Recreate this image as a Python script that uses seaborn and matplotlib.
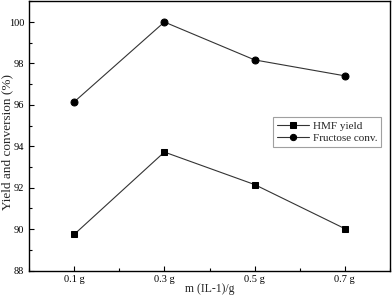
import matplotlib
matplotlib.use("Agg")
import matplotlib.pyplot as plt
import seaborn as sns
import pandas as pd
from matplotlib.ticker import MultipleLocator

categories = ["0.1 g", "0.3 g", "0.5 g", "0.7 g"]
mass = [0.1, 0.3, 0.5, 0.7]
hmf_yield = [89.74, 93.72, 92.15, 90.02]
fructose_conv = [96.14, 100.0, 98.17, 97.40]

sns.set_theme(style="ticks")
plt.rcParams['font.family'] = ['Liberation Serif', 'DejaVu Serif']

df = pd.DataFrame({
    "m": mass * 2,
    "value": hmf_yield + fructose_conv,
    "series": ["HMF yield"] * 4 + ["Fructose conv."] * 4,
})

fig = plt.figure(figsize=(3.92, 2.99), dpi=100)
ax = fig.add_axes([29/392, 1 - 270.5/299, (390-29)/392, (270.5-1.3)/299])

sns.lineplot(data=df, x="m", y="value", hue="series", style="series",
             markers={"HMF yield": "s", "Fructose conv.": "o"},
             dashes=False, palette={"HMF yield": "black", "Fructose conv.": "black"},
             linewidth=0.8, markersize=5, ax=ax)
for ln in ax.lines:
    ln.set_color("#333333")
    ln.set_markerfacecolor("black")
    ln.set_markeredgecolor("black")

ax.set_xlim(0, 0.8)
ax.set_ylim(88, 101)
ax.set_xticks(mass)
ax.set_xticklabels(categories)
ax.xaxis.set_minor_locator(MultipleLocator(0.2))
ax.yaxis.set_major_locator(MultipleLocator(2))
ax.yaxis.set_minor_locator(MultipleLocator(1))
ax.tick_params(which="both", direction="in", labelsize=7.5, colors="black", width=0.8)
ax.tick_params(which="major", length=3.5)
ax.tick_params(which="minor", length=2)
for s in ax.spines.values():
    s.set_linewidth(1.0)
    s.set_color("black")
ax.set_xlabel("m (IL-1)/g", fontsize=8.5)
ax.set_ylabel("Yield and conversion (%)", fontsize=9.5)
ax.xaxis.set_label_coords(0.5, (270.5 - 283) / 269.2)
ax.yaxis.set_label_coords((13 - 29) / 361, 1 - (142 - 1.3) / 269.2)

handles, labels = ax.get_legend_handles_labels()
leg = ax.legend(handles, labels, loc="upper left", bbox_to_anchor=((273-29)/361, 1 - (117-1.3)/269.2),
                fontsize=8, frameon=True, fancybox=False, edgecolor="#888888",
                handlelength=2.9, borderpad=0.35, labelspacing=0.25, handletextpad=0.35,
                borderaxespad=0, markerscale=0.9)
leg.get_frame().set_linewidth(0.8)

fig.savefig("out.png", dpi=100)
